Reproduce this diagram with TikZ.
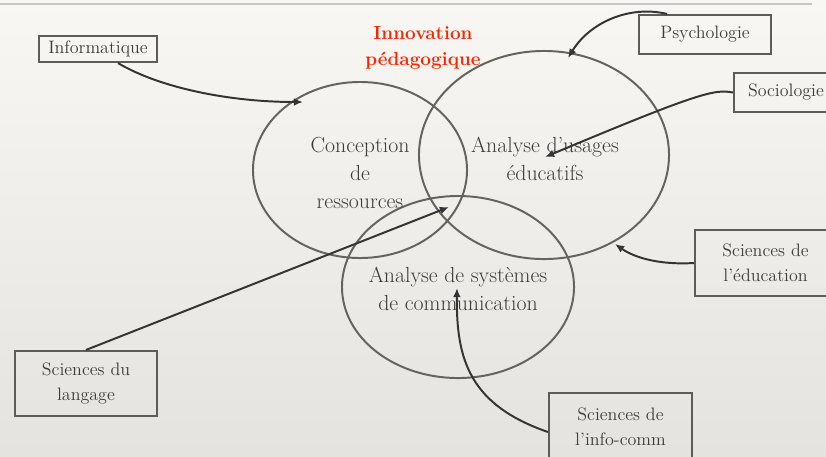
\documentclass[tikz,border=0pt]{standalone}
\usetikzlibrary{arrows.meta,shapes.geometric}
\definecolor{bgtop}{HTML}{F8F7F4}
\definecolor{bgbot}{HTML}{E4E3E0}
\definecolor{rimgray}{HTML}{65635F}
\definecolor{boxgray}{HTML}{5E5C59}
\definecolor{linkgray}{HTML}{343434}
\definecolor{textgray}{HTML}{3C3C3C}
\definecolor{titlered}{HTML}{FF2400}
\begin{document}
\begin{tikzpicture}[x=0.025cm, y=-0.025cm,
    link/.style={draw=linkgray, line width=1.4pt, -{Latex[length=6.5pt,width=5.5pt]}}]
    \useasboundingbox (0,0) rectangle (826,456);
    \shade [top color=bgtop, bottom color=bgbot] (0,0) rectangle (826,456);
    \draw [gray!45, line width=0.8pt] (0,4) -- (812,4);

    \node [text=titlered, font=\fontsize{13.5}{18.5}\selectfont\bfseries, align=center] (title) at (423,48) {Innovation\\pédagogique};

    \begin{scope}[every node/.style={ellipse, draw=rimgray, line width=1.4pt, inner sep=0pt}]
        \node [minimum width=5.35cm, minimum height=4.4cm] (conc) at (360,170) {};
        \node [minimum width=6.25cm, minimum height=5.2cm] (usag) at (544,155) {};
        \node [minimum width=5.8cm, minimum height=4.55cm] (syst) at (458,287) {};
    \end{scope}

    \begin{scope}[every node/.style={text=textgray, align=center, font=\fontsize{15.5}{20}\selectfont}]
        \node (concT) at (360,173) {Conception\\de\\ressources};
        \node (usagT) at (545,158.5) {Analyse d’usages\\éducatifs};
        \node (systT) at (458,289) {Analyse de systèmes\\de communication};
    \end{scope}

    \begin{scope}[every node/.style={rectangle, draw=boxgray, line width=1.5pt, inner sep=0pt, text=textgray, align=center, font=\fontsize{12.8}{17.8}\selectfont}]
        \node [minimum width=2.95cm, minimum height=0.65cm] (info) at (98,49) {Informatique};
        \node [minimum width=3.3cm, minimum height=0.975cm] (psy) at (705,34.5) {Psychologie};
        \node [minimum width=2.6cm, minimum height=0.975cm] (soc) at (786,92.5) {Sociologie};
        \node [minimum width=3.525cm, minimum height=1.65cm] (edu) at (765.5,263) {Sciences de\\l’éducation};
        \node [minimum width=3.55cm, minimum height=1.625cm] (lang) at (86,383.5) {Sciences du\\langage};
        \node [minimum width=3.575cm, minimum height=1.7cm] (ic) at (620.5,427) {Sciences de\\l’info-comm};
    \end{scope}

    \coordinate (c1) at (303,102);
    \coordinate (c2) at (568,58);
    \coordinate (c3) at (545,157);
    \coordinate (c4) at (615,244);
    \coordinate (c5) at (449,207);
    \coordinate (c6) at (457,288);

    \draw [link] ([xshift=0.5cm]info.south) .. controls (160,88) and (230,102) .. (c1);
    \draw [link] ([xshift=-0.95cm]psy.north) .. controls (630,5) and (590,22) .. (c2);
    \draw [link] (soc.west) .. controls (715,89) and (700,92) .. (c3);
    \draw [link] (edu.west) .. controls (660,265) and (635,258) .. (c4);
    \draw [link] (lang.north) -- (c5);
    \draw [link] ([yshift=-0.125cm]ic.west) .. controls (470,405) and (456,360) .. (c6);
\end{tikzpicture}
\end{document}
